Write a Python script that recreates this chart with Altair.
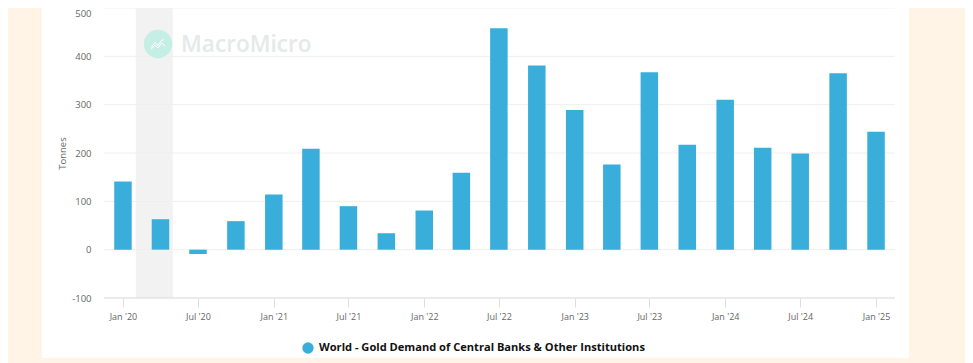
import altair as alt
import pandas as pd

quarters = ["2020-01-01","2020-04-01","2020-07-01","2020-10-01","2021-01-01","2021-04-01","2021-07-01",
            "2021-10-01","2022-01-01","2022-04-01","2022-07-01","2022-10-01","2023-01-01","2023-04-01",
            "2023-07-01","2023-10-01","2024-01-01","2024-04-01","2024-07-01","2024-10-01","2025-01-01"]
tonnes = [141,63,-9,59,114,209,90,34,81,159,458,381,289,176,367,217,310,211,199,365,244]
series_name = "World - Gold Demand of Central Banks & Other Institutions"
grid_values = [-100,0,100,200,300,400,500]
recession_start = ["2020-02-01"]
recession_end = ["2020-05-01"]

FONT = "Open Sans"
BLUE = "#3aaedb"
CREAM = "#fff4e6"

x_scale = alt.Scale(type="utc", domain=["2019-11-16","2025-02-16"], padding=0)
y_scale = alt.Scale(domain=[-100,500], nice=False, zero=False)

x_axis = alt.Axis(
    tickCount={"interval":"month","step":6},
    labelExpr="utcFormat(datum.value, \"%b '%y\")",
    grid=False, domain=False, tickColor="#dfdfe3", tickSize=9, labelPadding=5, zindex=1,
    labelFont=FONT, labelFontSize=9, labelColor="#666666", labelFlush=False, labelOverlap=False)
y_axis = alt.Axis(
    values=grid_values, grid=False, domain=False, ticks=False, labelPadding=13, zindex=1,
    labelExpr="'' + datum.value",
    labelBaseline=alt.expr("datum.value == 500 ? 'top' : 'middle'"),
    labelFont=FONT, labelFontSize=9.5, labelColor="#666666",
    titleFont=FONT, titleFontSize=9.5, titleFontWeight="normal", titleColor="#666666", titlePadding=4)

bars_df = pd.DataFrame({"date":quarters,"tonnes":tonnes,"series":series_name})
grid_df = pd.DataFrame({"v":grid_values})
rec_df = pd.DataFrame({"a":recession_start,"b":recession_end})
one = pd.DataFrame({"k":[0]})

card = alt.Chart(one).mark_rect(color="#ffffff").encode(
    x=alt.value(-62), x2=alt.value(805), y=alt.value(-20), y2=alt.value(350))

band = alt.Chart(rec_df).mark_rect(color="#f2f2f2").encode(
    x=alt.X("a:T", scale=x_scale, title=None, axis=x_axis), x2="b:T",
    y=alt.value(0), y2=alt.value(290))

grid = alt.Chart(grid_df).mark_rule(color="#efefef", strokeWidth=1).encode(
    y=alt.Y("v:Q", scale=y_scale, title="Tonnes", axis=y_axis))

base_line = alt.Chart(pd.DataFrame({"v":[-100]})).mark_rule(color="#dfdfe3", strokeWidth=1).encode(
    y=alt.Y("v:Q", scale=y_scale, title="Tonnes", axis=y_axis))

bars = alt.Chart(bars_df).mark_bar(size=17.5).encode(
    x=alt.X("date:T", scale=x_scale, title=None, axis=x_axis),
    y=alt.Y("tonnes:Q", scale=y_scale, title="Tonnes", axis=y_axis),
    color=alt.Color("series:N", scale=alt.Scale(domain=[series_name], range=[BLUE]), title=None,
        legend=alt.Legend(orient="none", legendX=198, legendY=334, symbolType="circle", symbolSize=130,
            symbolStrokeWidth=0, labelFont=FONT, labelFontSize=11.1, labelFontWeight="bold", labelOffset=5,
            labelColor="#111111", labelLimit=0)))

logo_circle = alt.Chart(one).mark_point(filled=True, shape="circle", size=800, color="#c5efe4", opacity=1).encode(
    x=alt.value(54), y=alt.value(36))
logo_path = alt.Chart(one).mark_point(filled=False, stroke="#ffffff", strokeWidth=1, opacity=1, size=400,
    shape="M-0.7,0.35 L-0.3,-0.15 L0,0.15 L0.35,-0.35 L0.6,-0.45 M-0.7,0.55 L-0.3,0.1 L0,0.4 L0.35,-0.1 L0.7,0.2").encode(
    x=alt.value(54), y=alt.value(36))
logo_text = alt.Chart(one).mark_text(text="MacroMicro", font=FONT, fontSize=22.6, fontWeight=600, color="#e6e9e9",
    align="left", baseline="middle").encode(x=alt.value(77), y=alt.value(37))

chart = alt.layer(card, band, grid, base_line, bars, logo_circle, logo_path, logo_text).properties(
    width=791, height=290,
    background=CREAM,
    padding={"left":96,"top":0,"right":70,"bottom":65},
    autosize=alt.AutoSizeParams(type="none", contains="content"),
).configure_view(stroke=None)

chart.save("out.html", embed_options={"renderer": "svg", "actions": False})
